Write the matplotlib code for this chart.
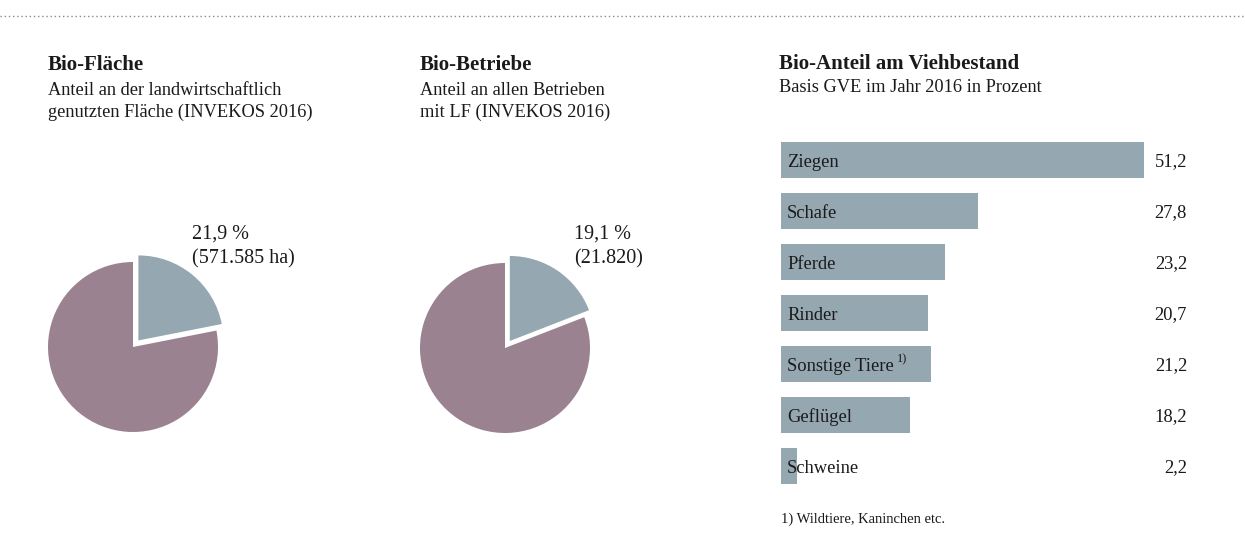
#!/usr/bin/env python3
"""Bio-Landwirtschaft: two share pies and livestock share bars."""
import matplotlib
matplotlib.use("Agg")
import matplotlib.pyplot as plt
from matplotlib.lines import Line2D

plt.rcParams["font.family"] = ["Liberation Serif", "DejaVu Serif"]

W, H = 1245, 534
PURPLE = "#9b8291"
GREY = "#95a7b0"
TXT = "#1a1a1a"

# pie data (bio share, rest)
flaeche_share = [21.9, 78.1]
flaeche_label = ["21,9 %", "(571.585 ha)"]
betriebe_share = [19.1, 80.9]
betriebe_label = ["19,1 %", "(21.820)"]

# livestock bars
tiere = ["Ziegen", "Schafe", "Pferde", "Rinder", "Sonstige Tiere", "Geflügel", "Schweine"]
anteil = [51.2, 27.8, 23.2, 20.7, 21.2, 18.2, 2.2]
anteil_txt = ["51,2", "27,8", "23,2", "20,7", "21,2", "18,2", "2,2"]


def px_axes(fig, x0, y0, x1, y1):
    """Axes from pixel box (top-left origin)."""
    return fig.add_axes([x0 / W, 1 - y1 / H, (x1 - x0) / W, (y1 - y0) / H])


def ftext(fig, x, y, s, **kw):
    kw.setdefault("color", TXT)
    kw.setdefault("va", "baseline")
    return fig.text(x / W, 1 - y / H, s, **kw)


def header(fig, x, ys, title, lines):
    ftext(fig, x, ys[0], title, fontsize=15, fontweight="bold")
    for ln, yy in zip(lines, ys[1:]):
        ftext(fig, x, yy, ln, fontsize=13.2)


def pie_panel(fig, cx, cy, share, label, lx, lys):
    r = 85
    lim = 1.2
    ax = px_axes(fig, cx - r * lim, cy - r * lim, cx + r * lim, cy + r * lim)
    ax.pie(share, colors=[GREY, PURPLE], startangle=90, counterclock=False,
           explode=[0.1, 0], radius=1.0, wedgeprops=dict(linewidth=0))
    ax.set_xlim(-lim, lim)
    ax.set_ylim(-lim, lim)
    ax.set_aspect("equal")
    ax.axis("off")
    for s, yy in zip(label, lys):
        ftext(fig, lx, yy, s, fontsize=14.5)


def main():
    fig = plt.figure(figsize=(W / 100, H / 100), dpi=100)
    fig.patch.set_facecolor("white")

    fig.add_artist(Line2D([0, 1], [1 - 16 / H, 1 - 16 / H], transform=fig.transFigure,
                          color="#8a8a8a", lw=1.0, linestyle=(0, (1, 2))))

    header(fig, 48, [70, 95, 117], "Bio-Fläche",
           ["Anteil an der landwirtschaftlich", "genutzten Fläche (INVEKOS 2016)"])
    header(fig, 420, [70, 95, 117], "Bio-Betriebe",
           ["Anteil an allen Betrieben", "mit LF (INVEKOS 2016)"])
    header(fig, 779, [69, 92], "Bio-Anteil am Viehbestand",
           ["Basis GVE im Jahr 2016 in Prozent"])

    pie_panel(fig, 133, 347, flaeche_share, flaeche_label, 192, [239, 263])
    pie_panel(fig, 505, 348, betriebe_share, betriebe_label, 574, [239, 263])

    # bars: 51.2 -> 363 px
    scale = 363 / 51.2
    xmax = 60
    ax = px_axes(fig, 781, 134.5, 781 + xmax * scale, 491.5)
    y = list(range(len(tiere)))
    ax.barh(y, anteil, height=0.72, color=GREY, edgecolor="none")
    ax.set_xlim(0, xmax)
    ax.set_ylim(len(tiere) - 0.5, -0.5)
    ax.axis("off")
    val_x = (1187 - 781) / scale
    for i, (name, v) in enumerate(zip(tiere, anteil_txt)):
        t = ax.text(0.85, i + 0.04, name, fontsize=13.3, color=TXT, ha="left", va="center")
        if name == "Sonstige Tiere":
            ax.annotate("1)", xy=(1, 0.55), xycoords=t, xytext=(2, 0),
                        textcoords="offset points", fontsize=9, color=TXT,
                        ha="left", va="bottom")
        ax.text(val_x, i + 0.04, v, fontsize=13.3, color=TXT, ha="right", va="center")

    ftext(fig, 781, 523, "1) Wildtiere, Kaninchen etc.", fontsize=10.5)

    fig.savefig("out.png", dpi=100, facecolor="white")
    plt.close(fig)


if __name__ == "__main__":
    main()
